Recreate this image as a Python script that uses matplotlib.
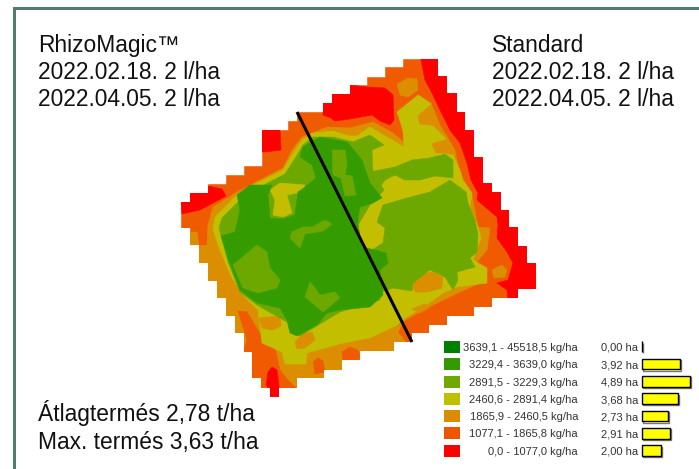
import matplotlib
matplotlib.use("Agg")
import matplotlib.pyplot as plt
from matplotlib.patches import Polygon, Rectangle

W, H = 699, 469
plt.rcParams['font.family'] = ['Liberation Sans', 'DejaVu Sans']

RED = '#FF0000'; ORANGE = '#F05A00'; DORANGE = '#DB8F00'; YELLOW = '#C4BE00'
LGREEN = '#6DA800'; GREEN = '#359C00'; DGREEN = '#007F00'

class_ranges = ['3639,1 - 45518,5 kg/ha', '3229,4 - 3639,0 kg/ha', '2891,5 - 3229,3 kg/ha',
                '2460,6 - 2891,4 kg/ha', '1865,9 - 2460,5 kg/ha', '1077,1 - 1865,8 kg/ha',
                '0,0 - 1077,0 kg/ha']
class_area_ha = [0.00, 3.92, 4.89, 3.68, 2.73, 2.91, 2.00]
class_area_labels = ['0,00 ha', '3,92 ha', '4,89 ha', '3,68 ha', '2,73 ha', '2,91 ha', '2,00 ha']
class_colors = [DGREEN, '#339900', '#70A800', '#BFBF00', '#D98C00', '#EE5500', RED]

left_notes = ['RhizoMagic™', '2022.02.18. 2 l/ha', '2022.04.05. 2 l/ha']
right_notes = ['Standard', '2022.02.18. 2 l/ha', '2022.04.05. 2 l/ha']
yield_notes = ['Átlagtermés 2,78 t/ha', 'Max. termés 3,63 t/ha']

# Field outline (image pixel coordinates, raster staircase)
field_outline = [(181,202),(190,202),(190,193),(208,193),(208,184),(226,184),(226,175),(244,175),(244,166),
    (262,166),(262,130),(288,130),(288,121),(297,121),(297,112),(323,112),(323,103),(332,103),(332,94),
    (350,94),(350,85),(367,85),(367,77),(385,77),(385,67),(403,67),(403,59),(438,59),(438,76),(447,76),
    (447,93),(457,93),(457,112),(465,112),(465,130),(474,130),(474,157),(483,157),(483,183),(492,183),
    (492,192),(501,192),(501,210),(509,210),(509,227),(518,227),(518,246),(527,246),(527,263),(536,263),
    (536,289),(518,289),(518,298),(492,298),(492,307),(474,307),(474,316),(447,316),(447,325),(429,325),
    (429,333),(412,333),(412,342),(394,342),(394,351),(360,351),(360,360),(342,360),(342,370),(324,370),
    (324,378),(297,378),(297,388),(279,388),(279,397),(270,397),(270,388),(261,388),(261,378),(252,378),
    (252,352),(244,352),(244,333),(235,333),(235,316),(226,316),(226,298),(217,298),(217,281),(208,281),
    (208,263),(199,263),(199,245),(190,245),(190,228),(181,228)]

# Yield zones, layered back to front
dorange_main = [(170,232),(197,232),(199,246),(207,245),(208,225),(213,207),(237,192),(260,180),(283,168),
    (292,150),(302,137),(327,127),(350,128),(373,122),(393,133),(405,143),(400,118),(420,96),(431,103),
    (440,125),(455,150),(460,175),(472,195),(478,227),(490,228),(487,250),(480,258),(472,268),(480,283),
    (460,292),(433,305),(405,320),(398,332),(412,350),(300,420),(170,320)]
orange_sw = [(238,311),(247,312),(259,332),(275,348),(280,370),(288,380),(300,392),(270,405),(245,385),
    (243,352),(247,340)]
orange_patch_a = [(342,352),(350,347),(358,350),(361,358),(352,364),(343,360)]
orange_patch_b = [(313,362),(318,358),(323,361),(325,372),(315,374)]
dorange_patch_a = [(397,84),(408,78),(417,79),(418,90),(408,97),(400,95)]
dorange_patch_b = [(492,270),(502,265),(507,270),(505,277),(494,278)]
yellow_main = [(213,230),(215,217),(237,195),(257,183),(283,170),(293,153),(302,140),(313,133),(333,131),
    (350,136),(357,136),(370,127),(380,133),(392,140),(404,147),(403,130),(397,112),(418,95),(431,104),
    (418,115),(420,123),(433,126),(446,139),(432,143),(436,152),(453,155),(460,170),(463,180),(472,193),
    (470,207),(478,227),(481,238),(473,260),(487,268),(487,283),(457,287),(443,293),(422,308),(405,318),
    (397,325),(370,338),(343,343),(307,353),(306,364),(285,364),(282,352),(262,343),(258,310),(245,297),
    (232,278),(220,250)]
dorange_patch_c = [(418,117),(428,113),(432,125),(420,124)]
dorange_patch_d = [(432,145),(445,141),(453,147),(452,153),(436,153)]
dorange_patch_e = [(259,318),(280,316),(281,326),(272,330),(262,328)]
dorange_patch_f = [(295,342),(302,334),(312,332),(315,340),(305,348),(297,349)]
dorange_patch_g = [(412,283),(420,275),(432,272),(443,277),(442,288),(428,292),(415,292)]
dorange_patch_h = [(412,309),(425,304),(430,307),(420,313)]
lgreen_west = [(219,228),(222,218),(240,200),(260,187),(285,174),(296,157),(303,145),(313,137),(333,137),
    (353,142),(370,135),(384,145),(372,150),(373,172),(384,190),(370,205),(358,225),(362,250),(380,300),
    (340,312),(300,336),(287,322),(257,305),(240,292),(228,262)]
lgreen_east = [(383,205),(407,198),(430,192),(450,180),(466,192),(468,203),(475,220),(478,235),(477,252),
    (470,258),(475,267),(457,272),(458,280),(453,290),(445,277),(430,270),(413,283),(412,291),(393,288),
    (382,292),(372,250),(383,243),(385,228),(377,222)]
lgreen_band = [(370,172),(395,167),(412,160),(430,158),(445,154),(453,160),(453,178),(435,176),(420,180),
    (405,180),(395,175),(385,180),(378,190)]
yellow_branch = [(270,190),(280,183),(305,185),(303,192),(287,195),(292,213),(283,217),(273,215),(275,200)]
green_main = [(221,236),(228,258),(240,290),(257,303),(280,308),(287,320),(290,333),(297,336),(317,325),
    (327,313),(340,310),(370,307),(383,295),(380,270),(388,263),(386,253),(375,250),(362,247),(358,225),
    (358,217),(360,207),(373,203),(382,198),(370,183),(362,160),(347,142),(320,137),(303,147),(300,157),
    (312,165),(316,178),(305,187),(298,192),(295,215),(283,219),(270,218),(268,195),(272,185),(250,185),
    (237,195),(240,210),(235,232)]
lgreen_island_a = [(233,265),(257,245),(267,252),(270,268),(280,280),(277,288),(258,293),(243,288)]
lgreen_island_b = [(310,282),(305,297),(323,312),(340,298),(335,292),(320,295),(315,288)]
lgreen_island_c = [(290,238),(300,248),(305,234),(323,231),(332,224),(325,220),(312,227),(303,227),(292,232)]
lgreen_island_d = [(332,150),(345,150),(347,165),(345,175),(352,176),(356,195),(345,196),(341,178),(333,175)]
red_nw = [(181,202),(190,202),(190,193),(208,193),(208,186),(222,189),(226,196),(200,210),(182,214)]
red_block = [(262,130),(280,130),(281,150),(265,152),(262,152)]
red_top = [(323,103),(332,103),(332,94),(350,94),(350,85),(367,87),(385,88),(393,95),(394,120),(390,125),
    (380,121),(372,115),(350,119),(335,121),(331,118),(323,115)]
red_east = [(420,55),(445,55),(545,250),(545,300),(508,300),(507,290),(497,283),(508,280),(513,263),(507,252),
    (497,238),(498,225),(497,217),(477,200),(478,193),(471,180),(467,163),(460,143),(450,130),(440,110),
    (432,93),(425,80)]
red_tip = [(270,400),(279,400),(279,385),(277,370),(272,367),(268,372),(266,385),(270,390)]

zones = [
    (ORANGE, field_outline), (DORANGE, dorange_main), (ORANGE, orange_sw), (ORANGE, orange_patch_a),
    (ORANGE, orange_patch_b), (DORANGE, dorange_patch_a), (DORANGE, dorange_patch_b), (YELLOW, yellow_main),
    (DORANGE, dorange_patch_c), (DORANGE, dorange_patch_d), (DORANGE, dorange_patch_e), (DORANGE, dorange_patch_f),
    (DORANGE, dorange_patch_g), (DORANGE, dorange_patch_h), (LGREEN, lgreen_west), (LGREEN, lgreen_east),
    (LGREEN, lgreen_band), (YELLOW, yellow_branch), (GREEN, green_main), (LGREEN, lgreen_island_a),
    (LGREEN, lgreen_island_b), (LGREEN, lgreen_island_c), (LGREEN, lgreen_island_d), (RED, red_nw),
    (RED, red_block), (RED, red_top), (RED, red_east), (RED, red_tip),
]
divider_x = [297, 412]
divider_y = [112, 342]

fig = plt.figure(figsize=(W/100, H/100), dpi=100, facecolor='white')
ax = fig.add_axes([0, 0, 1, 1])
ax.set_xlim(0, W); ax.set_ylim(H, 0); ax.axis('off')

clip = Polygon(field_outline, closed=True, transform=ax.transData, fc='none', ec='none')
ax.add_patch(clip)
for color, pts in zones:
    p = Polygon(pts, closed=True, fc=color, ec=color, lw=0.4, joinstyle='round')
    ax.add_patch(p)
    p.set_clip_path(clip)

ax.plot(divider_x, divider_y, color='black', lw=2.2, solid_capstyle='butt')

border = '#547C6E'
ax.plot([13.5, 13.5, W], [H, 8.5, 8.5], color=border, lw=2.2, solid_joinstyle='miter')

for notes, x in ((left_notes, 38.5), (right_notes, 492)):
    for line, y in zip(notes, (52, 79, 106.5)):
        ax.text(x, y, line, fontsize=16.4, color='#111111', ha='left', va='baseline')
for line, y in zip(yield_notes, (421, 449)):
    ax.text(38.5, y, line, fontsize=16.4, color='#111111', ha='left', va='baseline')

row_y = [346.7, 364.4, 381.8, 399.2, 416.2, 433.4, 450.7]
for name, lab, col, y in zip(class_ranges, class_area_labels, class_colors, row_y):
    ax.add_patch(Rectangle((444, y - 6), 16, 12, fc=col, ec='none'))
    ax.text(578, y + 4, name, fontsize=8.0, color='#333333', ha='right', va='baseline')
    ax.text(601, y + 4, lab, fontsize=8.0, color='#333333', ha='left', va='baseline')

top = row_y[0] - 8.7
bottom = row_y[-1] + 8.7
bx = fig.add_axes([641.7/W, 1 - bottom/H, 57/W, (bottom - top)/H])
bx.set_xlim(0, 57/9.8); bx.set_ylim(6.5, -0.5); bx.axis('off'); bx.patch.set_alpha(0)
ypos = list(range(len(class_area_ha)))
bx.barh([y + 0.07 for y in ypos], class_area_ha, left=0.1, height=0.62, color='none', edgecolor='#777777', lw=1.0, clip_on=False)
bx.barh(ypos, class_area_ha, height=0.62, color='#FFFF00', edgecolor='black', lw=1.0, clip_on=False)

fig.savefig('out.png', dpi=100)
